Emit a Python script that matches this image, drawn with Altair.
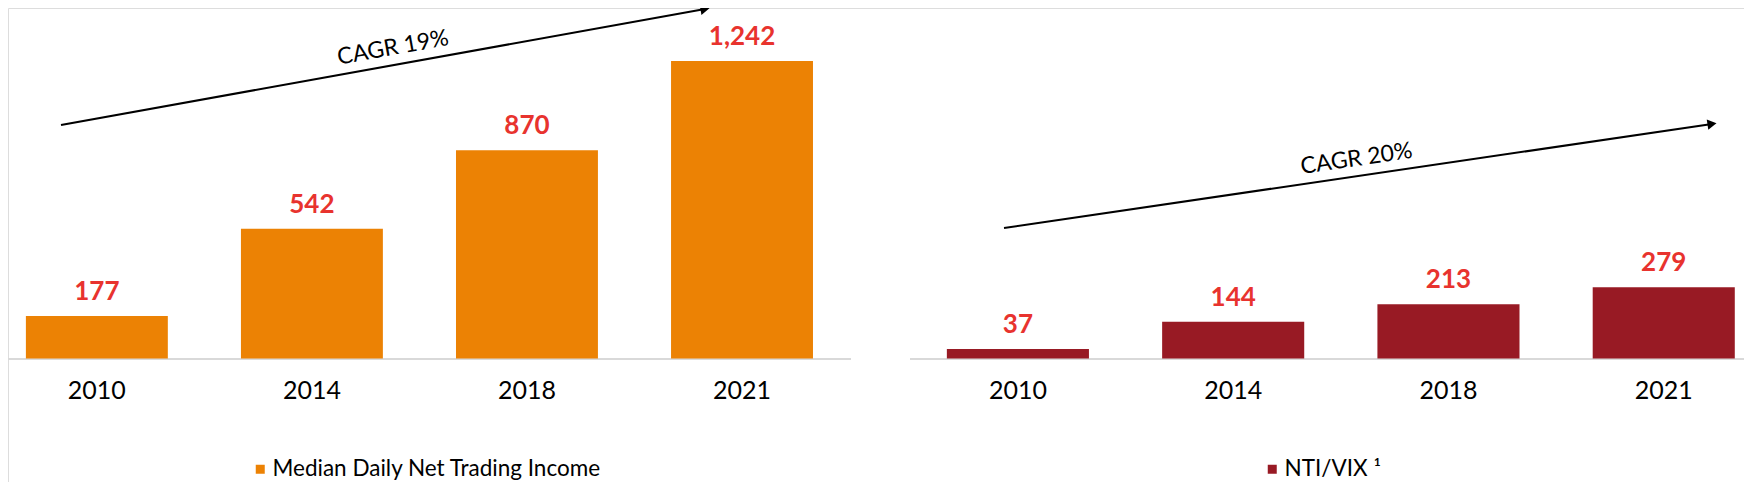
import altair as alt
import pandas as pd

# ---- data ----
years = ["2010", "2014", "2018", "2021"]
nti = [177, 542, 870, 1242]
nti_vix = [37, 144, 213, 279]
left_series = ["Median Daily Net Trading Income"]
right_series = ["NTI/VIX \u00b9"]
left_cagr = ["CAGR 19%"]
right_cagr = ["CAGR 20%"]

# ---- style ----
ORANGE = "#EC8204"
DARKRED = "#981A24"
LABEL_RED = "#E8332E"
AXIS_GREY = "#D9D9D9"
FONT = "Lato"
W, H = 1736, 474
BASE = 350.5

one = pd.DataFrame({"k": [0]})


def panel(values, series, color, xrange, pin, pout, align, ymax,
          legend_x, line_x, arrow, cagr, cagr_pos, cagr_angle):
    df = pd.DataFrame({"year": years, "value": values, "series": series * len(years)})
    xs = alt.Scale(domain=years, range=xrange, paddingInner=pin,
                   paddingOuter=pout, align=align)
    ys = alt.Scale(domain=[0, ymax], range=[BASE, 0], nice=False, zero=True)
    x = alt.X("year:N", scale=xs, axis=None, sort=years)

    bars = alt.Chart(df).mark_bar(color=color).encode(
        x=x,
        y=alt.Y("value:Q", scale=ys, axis=None),
        color=alt.Color(
            "series:N",
            scale=alt.Scale(domain=series, range=[color]),
            legend=alt.Legend(
                orient="none", legendX=legend_x, legendY=450, title=None,
                symbolType="square", symbolSize=81, symbolStrokeWidth=0,
                labelFont=FONT, labelFontSize=22.5, labelColor="#000000",
                labelOffset=1, padding=0, labelLimit=0,
            ),
        ),
    )
    vals = alt.Chart(df).mark_text(
        font=FONT, fontSize=26, fontWeight="bold", color=LABEL_RED,
        baseline="alphabetic", align="center", dy=-16,
    ).encode(x=x, y=alt.Y("value:Q", scale=ys, axis=None),
             text=alt.Text("value:Q", format=","))
    yrs = alt.Chart(df).mark_text(
        font=FONT, fontSize=25, color="#000000", baseline="middle", align="center",
    ).encode(x=x, y=alt.value(383), text="year:N")
    base = alt.Chart(one).mark_rule(color=AXIS_GREY, strokeWidth=2).encode(
        x=alt.value(line_x[0]), x2=alt.value(line_x[1]), y=alt.value(BASE + 0.5))
    (x0, y0), (x1, y1) = arrow
    line = alt.Chart(one).mark_rule(color="#000000", strokeWidth=2).encode(
        x=alt.value(x0), y=alt.value(y0), x2=alt.value(x1), y2=alt.value(y1))
    head = alt.Chart(one).mark_point(
        shape="triangle-right", filled=True, color="#000000", size=110,
        angle=cagr_angle, opacity=1,
    ).encode(x=alt.value(x1), y=alt.value(y1))
    txt = alt.Chart(pd.DataFrame({"t": cagr})).mark_text(
        font=FONT, fontSize=23, color="#000000", angle=cagr_angle,
        align="center", baseline="alphabetic", dy=-10,
    ).encode(x=alt.value(cagr_pos[0]), y=alt.value(cagr_pos[1]), text="t:N")
    return alt.layer(base, bars, vals, yrs, line, head, txt)


left = panel(nti, left_series, ORANGE, [0, 843], 0.34, 0.13, 0.32, 350.5 / 0.2395,
             241, (0, 843), ((53, 117), (697, 1)), left_cagr, (388, 56.6), 349.8)
right = panel(nti_vix, right_series, DARKRED, [902, 1736], 0.34, 0.107, 0.8, 350.5 / 0.255,
              1253, (902, 1736), ((996, 220), (1704, 116)), right_cagr, (1351, 167.7), 351.6)

chart = alt.layer(left, right).resolve_scale(
    x="independent", y="independent", color="independent"
).properties(
    width=W, height=H, padding=0, autosize=alt.AutoSizeParams(type="none"),
).configure_view(stroke=None).configure(background="white")

chart.save("out.html", embed_options={"renderer": "svg", "actions": False})
